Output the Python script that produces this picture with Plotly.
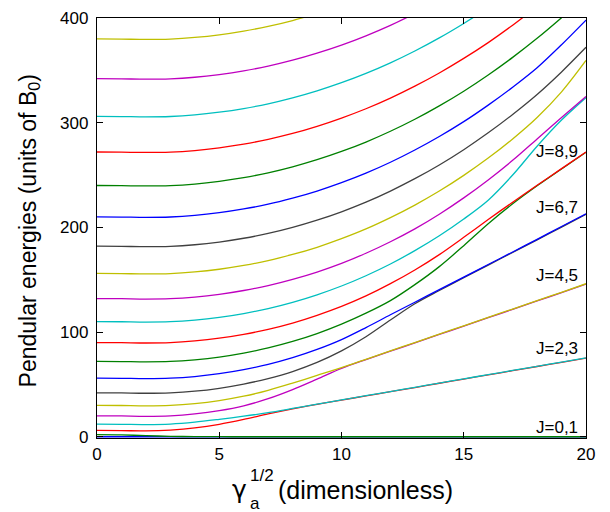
import plotly.graph_objects as go

# x grid: gamma_a^{1/2}
x_grid = list(range(0, 21))

# Energies (units of B0), one list per J (values at x = 0,1,2,...)
E_J0 = [0] * 21
E_J1 = [2, 1.75, 1.05, 0.4, 0.1, 0.02, 0, 0, 0, 0, 0, 0, 0, 0, 0, 0, 0, 0, 0, 0, 0]
E_J2 = [6, 5.85, 5.6, 6.4, 8.4, 11.8, 16.5, 21.8, 26.6, 30.9, 35.0, 39.0, 43.0, 47.0, 51.1, 55.1, 59.1, 63.1, 67.1, 71.1, 75.1]
E_J3 = [12, 11.85, 11.6, 12.1, 13.9, 16.6, 19.6, 23.0, 27.0, 31.1, 35.2, 39.2, 43.2, 47.2, 51.3, 55.3, 59.3, 63.3, 67.3, 71.3, 75.3]
E_J4 = [20, 19.85, 19.55, 20.0, 21.8, 24.9, 29.5, 36.3, 45.0, 55.0, 65.3, 73.7, 81.7, 89.7, 97.7, 105.7, 113.7, 121.7, 129.7, 137.7, 145.9]
E_J5 = [30, 29.85, 29.55, 29.95, 31.6, 34.5, 38.7, 44.3, 51.2, 58.6, 66.0, 74.0, 82.0, 90.0, 98.0, 106.0, 114.0, 122.0, 130.0, 138.0, 146.2]
E_J6 = [42, 41.85, 41.55, 41.95, 43.5, 46.3, 50.3, 55.6, 62.3, 71.0, 82.0, 95.5, 111.5, 127.0, 139.7, 152.0, 164.0, 176.0, 188.1, 200.3, 212.5]
E_J7 = [56, 55.85, 55.55, 55.95, 57.5, 60.2, 64.1, 69.1, 75.5, 83.4, 92.8, 104.3, 116.5, 128.5, 140.5, 152.5, 164.5, 176.5, 188.6, 200.8, 213.0]
E_J8 = [72, 71.85, 71.55, 71.9, 73.5, 76.1, 79.9, 84.8, 91.0, 98.5, 107.5, 118.0, 130.0, 145.3, 162.5, 182.5, 203.5, 222.5, 239.7, 255.8, 271.8]
E_J9 = [90, 89.85, 89.55, 89.9, 91.5, 94.1, 97.8, 102.6, 108.6, 116.0, 124.5, 134.5, 146.2, 159.3, 174.0, 190.5, 207.5, 224.0, 240.2, 256.1, 272.0]
E_J10 = [110, 109.85, 109.55, 109.9, 111.45, 114.05, 117.7, 122.45, 128.4, 135.6, 144.0, 153.8, 165.0, 177.8, 192.0, 208.0, 226.0, 250.0, 277.5, 302.5, 324.0]
E_J11 = [132, 131.85, 131.55, 131.9, 133.4, 136.0, 139.7, 144.35, 150.3, 157.3, 165.6, 175.3, 186.3, 198.6, 212.6, 228.2, 245.3, 264.0, 284.5, 305.0, 325.0]
E_J12 = [156, 155.85, 155.55, 155.9, 157.45, 160.0, 163.6, 168.2, 174.1, 181.0, 189.2, 198.5, 209.3, 221.3, 234.7, 249.7, 266.2, 284.5, 305.0, 329.5, 359.5]
E_J13 = [182, 181.85, 181.55, 181.9, 183.4, 186.0, 189.6, 194.2, 200.0, 206.9, 214.9, 224.1, 234.7, 246.5, 259.6, 274.2, 290.3, 307.9, 327.0, 348.5, 372.0]
E_J14 = [210, 209.85, 209.55, 209.9, 211.4, 214.0, 217.6, 222.1, 227.9, 234.7, 242.7, 251.8, 262.2, 273.9, 286.8, 301.0, 316.8, 333.9, 352.5, 374.5, 398.0]
E_J15 = [240, 239.85, 239.55, 239.9, 241.4, 244.0, 247.5, 252.1, 257.8, 264.6, 272.5, 281.5, 291.8, 303.3, 316.1, 330.1, 345.6, 362.4, 380.6, 400.3, 421.0]
E_J16 = [272, 271.85, 271.55, 271.9, 273.4, 276.0, 279.5, 284.1, 289.7, 296.5, 304.4, 313.3, 323.5, 334.9, 347.5, 361.4, 376.5, 393.1, 411.0]
E_J17 = [306, 305.85, 305.55, 305.9, 307.4, 310.0, 313.5, 318.0, 323.7, 330.4, 338.2, 347.1, 357.2, 368.5, 381.0, 394.8, 409.7]
E_J18 = [342, 341.85, 341.55, 341.9, 343.4, 346.0, 349.5, 354.0, 359.65, 366.4, 374.1, 383.0, 393.0, 404.2]
E_J19 = [380, 379.85, 379.55, 379.9, 381.4, 383.9, 387.5, 392.0, 397.6, 404.3]

curves = [E_J0, E_J1, E_J2, E_J3, E_J4, E_J5, E_J6, E_J7, E_J8, E_J9,
          E_J10, E_J11, E_J12, E_J13, E_J14, E_J15, E_J16, E_J17, E_J18, E_J19]

# pair labels
pair_labels = ["J=0,1", "J=2,3", "J=4,5", "J=6,7", "J=8,9"]
pair_label_y = [9.3, 83.9, 153.8, 219, 272.8]

x_ticks = [0, 5, 10, 15, 20]
y_ticks = [0, 100, 200, 300, 400]

colors = ["rgb(0,0,255)", "rgb(0,128,0)", "rgb(255,0,0)", "rgb(0,191,191)",
          "rgb(191,0,191)", "rgb(191,191,0)", "rgb(64,64,64)"]

FONT = "Liberation Sans, Arial, Helvetica, sans-serif"

fig = go.Figure()
for j, ys in enumerate(curves):
    fig.add_trace(go.Scatter(
        x=x_grid[:len(ys)], y=ys, mode="lines",
        line=dict(color=colors[j % len(colors)], width=1.3, shape="spline", smoothing=0.9),
        showlegend=False, hoverinfo="skip"))

annotations = []
for t, yv in zip(pair_labels, pair_label_y):
    annotations.append(dict(x=19.75, y=yv, xref="x", yref="y", text=t, showarrow=False,
                            xanchor="right", yanchor="middle",
                            font=dict(family=FONT, size=17, color="black")))

# y axis title
annotations.append(dict(x=-0.139, y=0.492, xref="paper", yref="paper",
                        text="Pendular energies (units of B<sub>0</sub>)", textangle=-90,
                        showarrow=False, xanchor="center", yanchor="middle",
                        font=dict(family=FONT, size=23, color="black")))
# x axis title pieces
annotations.append(dict(x=0.3088, y=-0.1235, xref="paper", yref="paper", text="γ",
                        showarrow=False, xanchor="right", yanchor="middle", borderpad=0,
                        font=dict(family="DejaVu Sans, sans-serif", size=25, color="black")))
annotations.append(dict(x=0.3115, y=-0.156, xref="paper", yref="paper", text="a",
                        showarrow=False, xanchor="left", yanchor="middle", borderpad=0,
                        font=dict(family=FONT, size=17, color="black")))
annotations.append(dict(x=0.3115, y=-0.090, xref="paper", yref="paper", text="1/2",
                        showarrow=False, xanchor="left", yanchor="middle", borderpad=0,
                        font=dict(family=FONT, size=17, color="black")))
annotations.append(dict(x=0.366, y=-0.1235, xref="paper", yref="paper", text="(dimensionless)",
                        showarrow=False, xanchor="left", yanchor="middle",
                        font=dict(family=FONT, size=25, color="black")))

axis_common = dict(showline=True, linecolor="black", linewidth=1.3, mirror="ticks",
                   ticks="inside", ticklen=6, tickwidth=1.3, tickcolor="black",
                   showgrid=False, zeroline=False, layer="above traces",
                   ticklabeloverflow="allow",
                   tickfont=dict(family=FONT, size=17, color="black"))

fig.update_layout(
    width=610, height=512,
    margin=dict(l=97, r=24, t=9, b=74),
    paper_bgcolor="white", plot_bgcolor="white",
    xaxis=dict(range=[0, 20], tickvals=x_ticks, ticklabelstandoff=0, **axis_common),
    yaxis=dict(range=[-1.2, 400], tickvals=y_ticks, ticklabelstandoff=4, **axis_common),
    annotations=annotations,
)

fig.write_html("out.html")
